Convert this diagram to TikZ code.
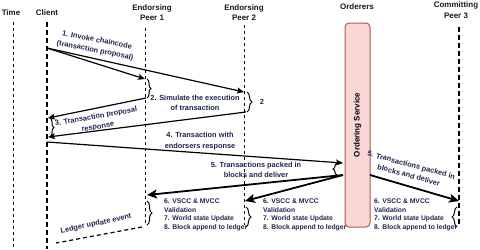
\documentclass[tikz,border=0pt]{standalone}
\usepackage{fontspec}
\setmainfont{Liberation Sans}
\usetikzlibrary{arrows.meta,decorations.pathreplacing}
\definecolor{lblc}{RGB}{30,35,80}
\definecolor{hdrc}{RGB}{25,25,25}
\definecolor{ordfill}{RGB}{248,215,213}
\definecolor{ordline}{RGB}{184,84,80}
\begin{document}
\begin{tikzpicture}[x=1bp,y=-1bp,
  hdr/.style={font=\fontsize{8}{10.5}\selectfont\bfseries, text=hdrc, align=center, inner sep=0},
  lbl/.style={font=\fontsize{7.4}{10.5}\selectfont\bfseries, text=lblc, align=center, inner sep=0},
  smalltxt/.style={font=\fontsize{6.8}{8.4}\selectfont\bfseries, text=lblc, align=left, inner sep=0, anchor=north west},
  thinlife/.style={line width=1bp, dash pattern=on 3bp off 3bp},
  thicklife/.style={line width=1.6bp, dash pattern=on 5bp off 3bp},
  msg/.style={line width=1.2bp, -{Stealth[length=7bp,width=6bp,inset=1.5bp]}},
  bigmsg/.style={line width=1.8bp, -{Stealth[length=10bp,width=9bp,inset=2.5bp]}},
  brk/.style={line width=1bp, decorate, decoration={brace, amplitude=4bp}},
  evt/.style={line width=1.2bp, dash pattern=on 4bp off 3bp},
]
\useasboundingbox (0,0) rectangle (480,249);

% headers
\node[hdr] (hTime) at (11,13) {Time};
\node[hdr] (hClient) at (47,13) {Client};
\node[hdr] (hP1) at (152,12.5) {Endorsing\\Peer 1};
\node[hdr] (hP2) at (244,12.5) {Endorsing\\Peer 2};
\node[hdr] (hOrd) at (357,7) {Orderers};
\node[hdr] (hP3) at (456,10) {Committing\\Peer 3};

% lifelines
\coordinate (tT) at (13,22);   \coordinate (tB) at (13,249);
\coordinate (cT) at (47,22);   \coordinate (cB) at (47,249);
\coordinate (p1T) at (145,28); \coordinate (p1B) at (145,225);
\coordinate (p2T) at (244,25); \coordinate (p2B) at (244,225);
\coordinate (p3T) at (459,27); \coordinate (p3B) at (459,227);
\draw[thinlife] (tT) -- (tB);
\draw[thicklife] (cT) -- (cB);
\draw[thinlife] (p1T) -- (p1B);
\draw[thinlife] (p2T) -- (p2B);
\draw[thicklife] (p3T) -- (p3B);

% ordering service
\node[draw=ordline, fill=ordfill, line width=1bp, rounded corners=4bp,
      rotate=90, minimum width=204bp, minimum height=25bp, inner sep=0,
      font=\fontsize{8}{10}\selectfont\bfseries] (os) at (357.5,125) {Ordering Service};

% step 1
\coordinate (c1) at (47,48);
\coordinate (p1a) at (145,79);
\coordinate (p2a) at (244,92);
\draw[msg] (c1) -- (p1a);
\draw[msg] (c1) -- (p2a);
\node[lbl, rotate=-11] (l1) at (96,45.5) {1. Invoke chaincode\\(transaction proposal)};

% step 2
\coordinate (p1b) at (146,98);
\coordinate (p2b) at (246,112);
\draw[brk] (147,79) -- (147,98);
\draw[brk, decoration={brace, amplitude=5bp}] (247,92) -- (247,112);
\node[lbl] (l2) at (195,103) {2. Simulate the execution\\of transaction};
\node[lbl] (l2b) at (262,102) {2};

% step 3
\coordinate (c3a) at (48,118);
\coordinate (c3b) at (48,137);
\draw[msg] (p1b) -- (c3a);
\draw[msg] (p2b) -- (c3b);
\draw[brk] (50,118) -- (50,137);
\node[lbl, rotate=10] (l3) at (97,122) {3. Transaction proposal\\response};

% step 4
\coordinate (c4) at (47,142);
\coordinate (o4) at (343,163);
\draw[msg] (c4) -- (o4);
\node[lbl] (l4) at (200,141) {4. Transaction with\\endorsers response};

% step 5
\draw[brk] (337,175) -- (337,163);
\coordinate (o5l) at (343,175);
\coordinate (o5r) at (370,175);
\coordinate (p15) at (147,195);
\coordinate (p25) at (245,201);
\coordinate (p35) at (459,201);
\draw[bigmsg] (o5l) -- (p15);
\draw[bigmsg] (o5l) -- (p25);
\draw[bigmsg] (o5r) -- (p35);
\node[lbl] (l5a) at (256,170) {5. Transactions packed in\\blocks and deliver};
\node[lbl, rotate=-15] (l5b) at (410,170) {5. Transactions packed in\\blocks and deliver};

% steps 6-8
\draw[brk, decoration={brace, amplitude=5bp}] (147,201) -- (147,225);
\draw[brk, decoration={brace, amplitude=5bp}] (246,207) -- (246,227);
\draw[brk, decoration={brace, amplitude=5bp}] (457,227) -- (457,207);
\node[smalltxt] (s1) at (164,199) {6. VSCC \& MVCC\\Validation\\7. World state Update\\8. Block append to ledger};
\node[smalltxt] (s2) at (263,199) {6. VSCC \& MVCC\\Validation\\7. World state Update\\8. Block append to ledger};
\node[smalltxt] (s3) at (374,199) {6. VSCC \& MVCC\\Validation\\7. World state Update\\8. Block append to ledger};

% ledger update event
\coordinate (le1) at (142,227);
\coordinate (le2) at (56,243);
\draw[evt] (le1) -- (le2);
\node[lbl, rotate=12] (lle) at (96,224) {Ledger update event};
\end{tikzpicture}
\end{document}
